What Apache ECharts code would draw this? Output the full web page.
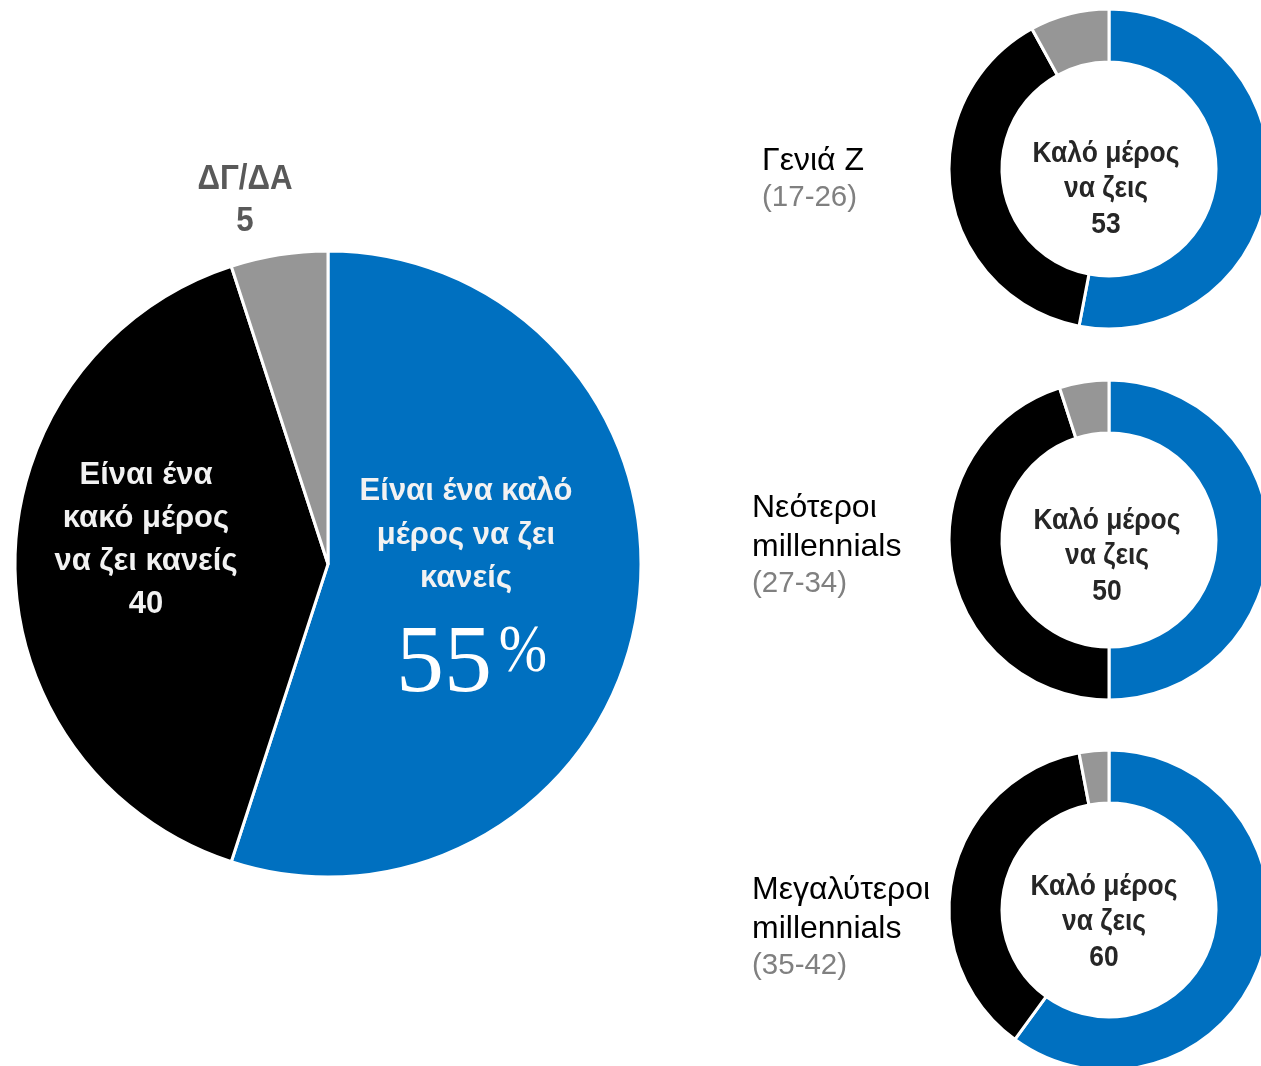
<!DOCTYPE html>
<html><head><meta charset="utf-8">
<script src="https://cdn.jsdelivr.net/npm/echarts@6/dist/echarts.min.js"></script>
<style>html,body{margin:0;padding:0;background:#fff}#c{width:1261px;height:1066px}</style>
</head><body><div id="c"></div>
<script>
// Data
const mainCategories = ['Είναι ένα καλό μέρος να ζει κανείς', 'Είναι ένα κακό μέρος να ζει κανείς', 'ΔΓ/ΔΑ'];
const mainValues = [55, 40, 5];
const groupNames = [['Γενιά Ζ'], ['Νεότεροι', 'millennials'], ['Μεγαλύτεροι', 'millennials']];
const groupAges = ['(17-26)', '(27-34)', '(35-42)'];
const groupGood = [53, 50, 60];
const groupBad = [39, 45, 37];
const groupDk = [8, 5, 3];
const colors = ['#0070C0', '#000000', '#969696'];

const chart = echarts.init(document.getElementById('c'), null, {renderer: 'canvas'});
const F = '"Liberation Sans", Arial, sans-serif';
const FS = '"Liberation Serif", "Times New Roman", serif';

const series = [{
  type: 'pie', center: [328, 564], radius: [0, 313], startAngle: 90, clockwise: true,
  silent: true, animation: false, label: {show: false}, labelLine: {show: false},
  itemStyle: {borderColor: '#fff', borderWidth: 3},
  data: mainValues.map((v, i) => ({name: mainCategories[i], value: v, itemStyle: {color: colors[i]}}))
}];
const donutCY = [169, 540, 910];
donutCY.forEach((cy, k) => {
  series.push({
    type: 'pie', center: [1109, cy], radius: [107, 160], startAngle: 90, clockwise: true,
    silent: true, animation: false, label: {show: false}, labelLine: {show: false},
    itemStyle: {borderColor: '#fff', borderWidth: 3},
    data: [groupGood[k], groupBad[k], groupDk[k]].map((v, i) => ({name: mainCategories[i], value: v, itemStyle: {color: colors[i]}}))
  });
});

const g = [];
const boldText = (txt, x, y, size, color, lh, sx) => ({
  type: 'text', x, y, silent: true, z: 100, scaleX: sx || 1,
  style: {text: txt, font: 'bold ' + size + 'px ' + F, fill: color, align: 'center', verticalAlign: 'middle', lineHeight: lh}
});
// main pie labels
g.push(boldText('Είναι ένα καλό\nμέρος να ζει\nκανείς', 466, 535, 31, '#f2f2f2', 43.5));
g.push({type: 'text', x: 444, y: 666, silent: true, z: 100, style: {text: String(mainValues[0]), font: '96px ' + FS, fill: '#fff', align: 'center', verticalAlign: 'middle'}});
g.push({type: 'text', x: 523, y: 653, silent: true, z: 100, scaleY: 1.15, style: {text: '%', font: '58px ' + FS, fill: '#fff', align: 'center', verticalAlign: 'middle'}});
g.push(boldText('Είναι ένα\nκακό μέρος\nνα ζει κανείς\n' + mainValues[1], 146, 540, 31, '#f2f2f2', 42.7));
g.push(boldText(mainCategories[2] + '\n' + mainValues[2], 245, 200, 35, '#595959', 42, 0.894));

// donut labels
const textCY = [189, 556, 922];
const textCX = [1106, 1107, 1104];
const nameY = [[161], [508, 547], [890, 929]];
const ageY = [198, 584, 966];
const nameX = [762, 752, 752];
for (let k = 0; k < 3; k++) {
  g.push(boldText('Καλό μέρος\nνα ζεις\n' + groupGood[k], textCX[k], textCY[k], 30, '#262626', 35.5, 0.88));
  groupNames[k].forEach((n, j) => {
    g.push({type: 'text', x: nameX[k], y: nameY[k][j], silent: true, z: 100, style: {text: n, font: '32px ' + F, fill: '#000', align: 'left', verticalAlign: 'middle'}});
  });
  g.push({type: 'text', x: nameX[k], y: ageY[k], silent: true, z: 100, style: {text: groupAges[k], font: '29.5px ' + F, fill: '#808080', align: 'left', verticalAlign: 'middle'}});
}

chart.setOption({backgroundColor: '#fff', animation: false, series, graphic: {elements: g}});
</script></body></html>
